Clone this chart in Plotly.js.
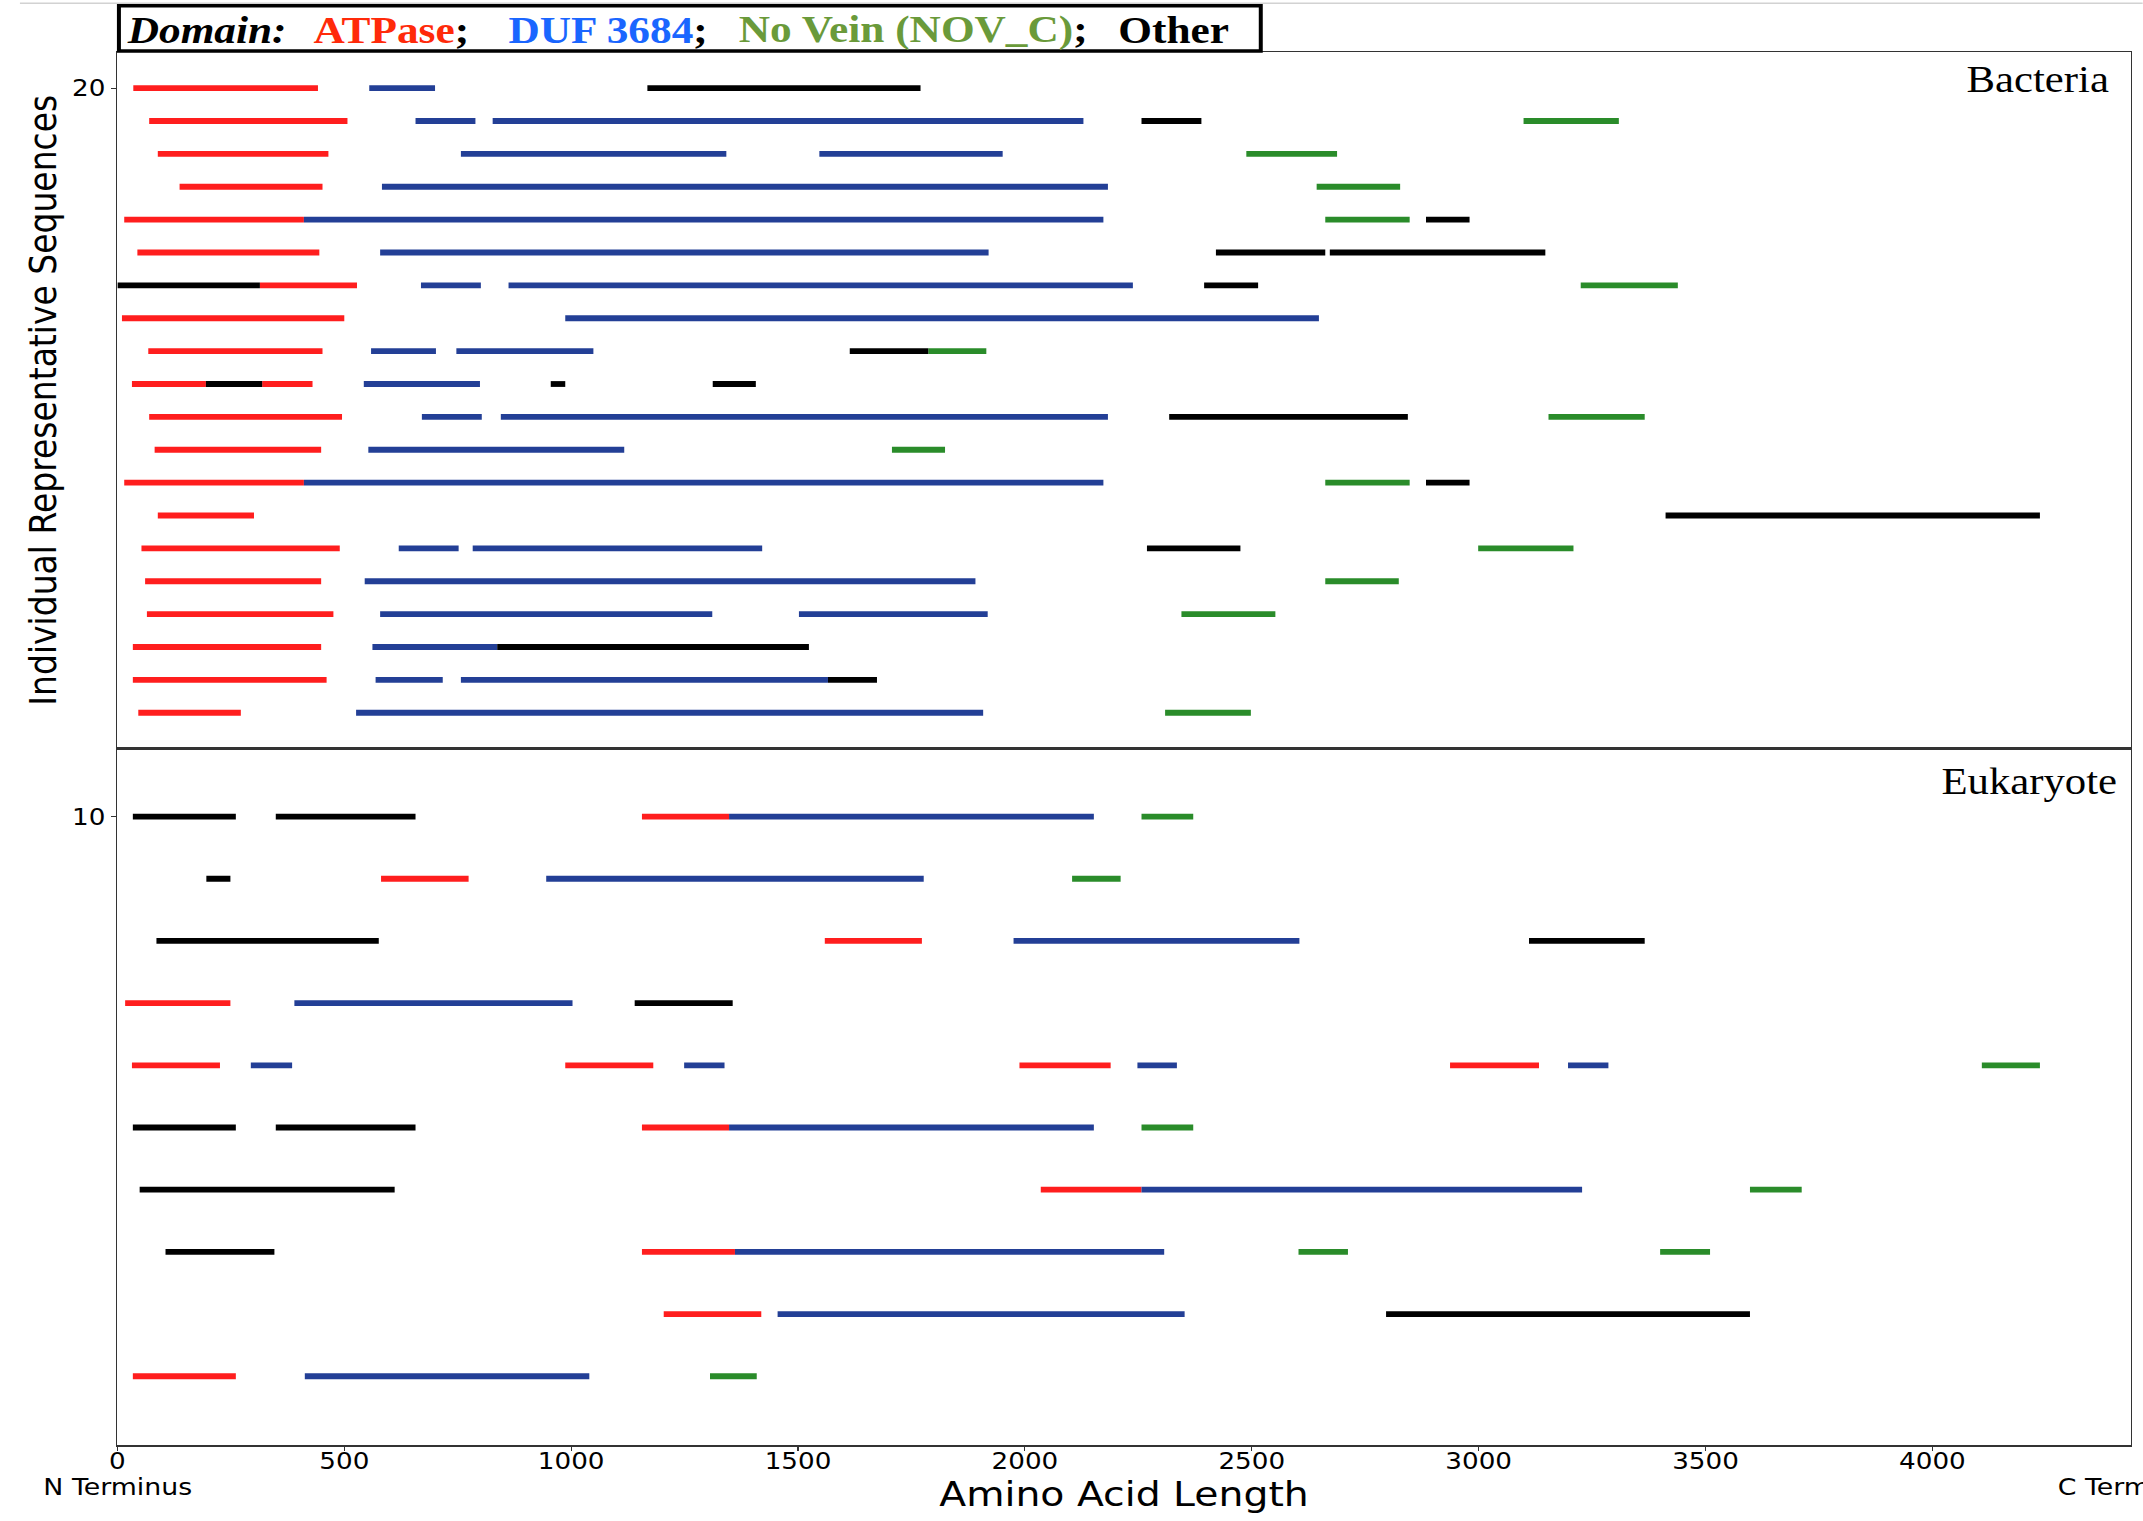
<!DOCTYPE html>
<html>
<head>
<meta charset="utf-8">
<script src="https://cdn.plot.ly/plotly-3.0.1.min.js"></script>
<style>
  html, body { margin: 0; padding: 0; overflow: hidden; background: #ffffff; }
  #chart { transform-origin: 0 0; }
</style>
</head>
<body>
<div id="chart"></div>
<script>
// Domain architecture of representative sequences: [row, start residue, end residue]

const bacteriaATPase = [
  [20, 35, 442], [19, 70, 507], [18, 89, 465], [17, 137, 452], [16, 15, 411],
  [15, 44, 445], [14, 314, 528], [13, 10, 500], [12, 68, 452], [11, 32, 195],
  [11, 319, 430], [10, 70, 495], [9, 82, 449], [8, 15, 411], [7, 89, 301],
  [6, 53, 490], [5, 61, 449], [4, 65, 476], [3, 34, 449], [2, 34, 461], [1, 46, 272]
];
const bacteriaDUF3684 = [
  [20, 555, 700], [19, 657, 789], [19, 827, 2129], [18, 757, 1342], [18, 1547, 1951],
  [17, 583, 2183], [16, 411, 2173], [15, 579, 1920], [14, 669, 801], [14, 862, 2238],
  [13, 987, 2648], [12, 559, 702], [12, 747, 1049], [11, 543, 799], [10, 671, 803],
  [10, 845, 2183], [9, 553, 1117], [8, 411, 2173], [6, 620, 752], [6, 783, 1421],
  [5, 545, 1891], [4, 579, 1311], [4, 1502, 1918], [3, 562, 837], [2, 569, 717],
  [2, 757, 1566], [1, 526, 1908]
];
const bacteriaNoVein = [
  [19, 3099, 3309], [18, 2488, 2688], [17, 2643, 2827], [16, 2662, 2848], [14, 3225, 3439],
  [12, 1787, 1915], [10, 3154, 3366], [9, 1707, 1824], [8, 2662, 2848], [6, 2999, 3209],
  [5, 2662, 2824], [4, 2345, 2552], [1, 2309, 2498]
];
const bacteriaOther = [
  [20, 1168, 1770], [19, 2257, 2389], [16, 2884, 2980], [15, 2421, 2662], [15, 2672, 3147],
  [14, 0, 314], [14, 2395, 2514], [12, 1614, 1787], [11, 195, 319], [11, 955, 987],
  [11, 1312, 1407], [10, 2318, 2844], [8, 2884, 2980], [7, 3412, 4237], [6, 2269, 2475],
  [3, 837, 1524], [2, 1566, 1674]
];

const eukaryoteATPase = [
  [10, 1156, 1348], [9, 581, 774], [8, 1559, 1773], [7, 17, 249], [6, 32, 226],
  [6, 987, 1181], [6, 1988, 2189], [6, 2937, 3133], [5, 1156, 1348], [4, 2035, 2257],
  [3, 1156, 1361], [2, 1204, 1419], [1, 34, 261]
];
const eukaryoteDUF3684 = [
  [10, 1348, 2152], [9, 945, 1777], [8, 1975, 2605], [7, 390, 1003], [6, 294, 385],
  [6, 1249, 1338], [6, 2248, 2335], [6, 3197, 3286], [5, 1348, 2152], [4, 2257, 3228],
  [3, 1361, 2307], [2, 1455, 2352], [1, 413, 1040]
];
const eukaryoteNoVein = [
  [10, 2257, 2371], [9, 2104, 2211], [6, 4109, 4237], [5, 2257, 2371], [4, 3598, 3712],
  [3, 2603, 2712], [3, 3400, 3510], [1, 1306, 1409]
];
const eukaryoteOther = [
  [10, 34, 261], [10, 349, 657], [9, 196, 249], [8, 86, 576], [8, 3111, 3366],
  [7, 1140, 1356], [5, 34, 261], [5, 349, 657], [4, 49, 611], [3, 106, 346], [2, 2796, 3598]
];

const xTickVals = [0, 500, 1000, 1500, 2000, 2500, 3000, 3500, 4000];
const xMax = 4437;
const bacteriaTicks = [20];
const eukaryoteTicks = [10];

// Figure is drawn narrower and widened with a horizontal stretch
const STRETCH = 1.14;
const FIG_W = 2143, FIG_H = 1521;
const W = FIG_W / STRETCH;
const PLOT_L = 117.5, PLOT_R = 2131, PLOT_T = 52, PLOT_B = 1445;

const COLORS = { atp: '#ff1e1e', duf: '#233f96', nov: '#2a8c2a', other: '#000000' };
const BAR_W = 5.8;

function segTrace(segments, color, xa, ya) {
  const x = [], y = [];
  segments.forEach(([row, s, e]) => { x.push(s, e, null); y.push(row, row, null); });
  return { type: 'scatter', mode: 'lines', x, y, xaxis: xa, yaxis: ya,
           line: { color, width: BAR_W }, connectgaps: false,
           hoverinfo: 'skip', showlegend: false };
}

const traces = [
  segTrace(bacteriaATPase, COLORS.atp, 'x', 'y'),
  segTrace(bacteriaDUF3684, COLORS.duf, 'x', 'y'),
  segTrace(bacteriaNoVein, COLORS.nov, 'x', 'y'),
  segTrace(bacteriaOther, COLORS.other, 'x', 'y'),
  segTrace(eukaryoteATPase, COLORS.atp, 'x2', 'y2'),
  segTrace(eukaryoteDUF3684, COLORS.duf, 'x2', 'y2'),
  segTrace(eukaryoteNoVein, COLORS.nov, 'x2', 'y2'),
  segTrace(eukaryoteOther, COLORS.other, 'x2', 'y2')
];

// pixel helpers (full-figure pixels -> paper fractions)
const px = v => (v - PLOT_L) / (PLOT_R - PLOT_L);
const py = v => (PLOT_B - v) / (PLOT_B - PLOT_T);

const SANS = 'DejaVu Sans';
const SERIF = 'Liberation Serif';
const LINE = '#333333';
const TICK_SIZE = 23;

const axisCommon = {
  range: [0, xMax], showgrid: false, zeroline: false,
  showline: true, mirror: true, linecolor: LINE, linewidth: 1.5
};

const legendParts = [
  { x: 126, text: '<b><i>Domain:</i></b>' },
  { x: 312, text: '<b><span style="color:#ff2a0a">ATPase</span>;</b>' },
  { x: 508, text: '<b><span style="color:#1a66ff">DUF 3684</span>;</b>' },
  { x: 738, text: '<b><span style="color:#6a9a3a">No Vein (NOV_C)</span>;</b>' },
  { x: 1117, text: '<b>Other</b>' }
];

const annotations = legendParts.map(p => ({
  xref: 'paper', yref: 'paper', x: px(p.x), y: py(30),
  xanchor: 'left', yanchor: 'middle', showarrow: false, text: p.text,
  borderpad: 0, font: { family: SERIF, size: 38, color: '#000' }
}));

annotations.push(
  { xref: 'paper', yref: 'paper', x: px(2110), y: py(79), xanchor: 'right', yanchor: 'middle',
    showarrow: false, text: 'Bacteria', borderpad: 0, font: { family: SERIF, size: 37.5, color: '#000' } },
  { xref: 'paper', yref: 'paper', x: px(2118.5), y: py(781.4), xanchor: 'right', yanchor: 'middle',
    showarrow: false, text: 'Eukaryote', borderpad: 0, font: { family: SERIF, size: 37.5, color: '#000' } },
  { xref: 'x2', yref: 'paper', x: 0, y: py(1487), xanchor: 'center', yanchor: 'middle',
    showarrow: false, text: 'N Terminus', borderpad: 0, font: { family: SANS, size: 23.5, color: '#000' } },
  { xref: 'x2', yref: 'paper', x: xMax, y: py(1487), xanchor: 'center', yanchor: 'middle',
    showarrow: false, text: 'C Terminus', borderpad: 0, font: { family: SANS, size: 23.5, color: '#000' } }
);

const shapes = [
  { type: 'line', xref: 'paper', yref: 'paper', x0: px(20), x1: px(2143), y0: py(3.3), y1: py(3.3),
    line: { color: '#d2d2d2', width: 1.5 } },
  { type: 'rect', xref: 'paper', yref: 'paper', x0: px(119), x1: px(1261), y0: py(51), y1: py(5.8),
    fillcolor: '#ffffff', line: { color: '#000000', width: 3.5 } }
];

const layout = {
  width: W, height: FIG_H,
  margin: { l: PLOT_L / STRETCH, r: (FIG_W - PLOT_R) / STRETCH, t: PLOT_T, b: FIG_H - PLOT_B, pad: 0 },
  paper_bgcolor: '#ffffff', plot_bgcolor: '#ffffff',
  showlegend: false, hovermode: false,
  xaxis: Object.assign({}, axisCommon, { anchor: 'y', domain: [0, 1], showticklabels: false, ticks: '' }),
  xaxis2: Object.assign({}, axisCommon, {
    anchor: 'y2', domain: [0, 1], ticks: 'outside', ticklen: 4, tickwidth: 1, tickcolor: LINE,
    tickvals: xTickVals, ticktext: xTickVals.map(String), ticklabelstandoff: -9,
    tickfont: { family: SANS, size: TICK_SIZE, color: '#000' },
    title: { text: 'Amino Acid Length', font: { family: SANS, size: 34.5, color: '#000' }, standoff: 0 }
  }),
  yaxis: {
    anchor: 'x', domain: [0.5, 1], range: [-0.087, 21.099],
    showgrid: false, zeroline: false, showline: true, mirror: true, linecolor: LINE, linewidth: 1.5,
    ticks: 'outside', ticklen: 4.4, tickwidth: 1, tickcolor: LINE,
    tickvals: bacteriaTicks, ticktext: bacteriaTicks.map(String),
    tickfont: { family: SANS, size: TICK_SIZE, color: '#000' },
    title: { text: 'Individual Representative Sequences', font: { family: SANS, size: 33, color: '#000' }, standoff: 3 }
  },
  yaxis2: {
    anchor: 'x2', domain: [0, 0.5], range: [-0.106, 11.095],
    showgrid: false, zeroline: false, showline: true, mirror: true, linecolor: LINE, linewidth: 1.5,
    ticks: 'outside', ticklen: 4.4, tickwidth: 1, tickcolor: LINE,
    tickvals: eukaryoteTicks, ticktext: eukaryoteTicks.map(String),
    tickfont: { family: SANS, size: TICK_SIZE, color: '#000' }
  },
  annotations, shapes
};

const el = document.getElementById('chart');
el.style.width = W + 'px';
el.style.height = FIG_H + 'px';
el.style.transform = 'scaleX(' + STRETCH + ')';
Plotly.newPlot(el, traces, layout, { displayModeBar: false, staticPlot: true });
</script>
</body>
</html>
